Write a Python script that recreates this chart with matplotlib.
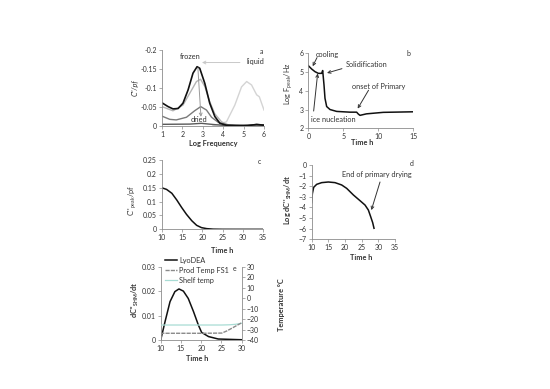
import numpy as np
import matplotlib
matplotlib.use("Agg")
import matplotlib.pyplot as plt

plt.rcParams['font.family'] = ['Lato', 'DejaVu Sans']
plt.rcParams['font.size'] = 5
plt.rcParams['mathtext.default'] = 'regular'

# panel a: dielectric loss spectra (log frequency)
freq_frozen = [1.0, 1.3, 1.54, 1.79, 2.03, 2.28, 2.52, 2.72, 2.85, 3.1, 3.34, 3.59, 3.84, 4.16, 4.6, 5.2, 5.64, 6.0]
c_frozen = [-0.061, -0.051, -0.045, -0.046, -0.06, -0.095, -0.139, -0.156, -0.152, -0.112, -0.06, -0.025, -0.007, -0.002, -0.001, -0.001, -0.004, -0.002]
freq_mid = [1.0, 1.54, 2.03, 2.36, 2.69, 2.89, 3.1, 3.34, 3.59, 3.92, 4.25, 5.0, 6.0]
c_mid = [-0.051, -0.04, -0.055, -0.086, -0.117, -0.123, -0.104, -0.064, -0.032, -0.011, -0.003, -0.001, -0.001]
freq_part = [1.0, 1.38, 1.7, 2.2, 2.6, 2.9, 3.18, 3.43, 3.75, 4.16, 4.8, 6.0]
c_part = [-0.026, -0.0175, -0.016, -0.023, -0.04, -0.051, -0.042, -0.023, -0.01, -0.0035, -0.002, -0.002]
freq_dried = [1.0, 2.36, 2.93, 3.5, 4.16, 5.0, 5.64, 6.0]
c_dried = [-0.0044, -0.005, -0.007, -0.004, -0.001, -0.001, -0.004, -0.003]
freq_liquid = [3.5, 3.67, 4.16, 4.57, 4.9, 5.15, 5.39, 5.64, 5.77, 6.0]
c_liquid = [-0.001, -0.003, -0.011, -0.055, -0.103, -0.117, -0.108, -0.082, -0.077, -0.042]

# panel b: log F_peak vs time
t_b = [0.0, 0.48, 0.95, 1.43, 1.9, 2.05, 2.24, 2.38, 2.62, 3.1, 4.05, 5.95, 6.9, 7.14, 7.38, 8.3, 10.7, 15.0]
logf_b = [5.34, 5.16, 5.02, 4.93, 4.93, 5.08, 4.31, 3.6, 3.16, 3.0, 2.9, 2.86, 2.86, 2.76, 2.69, 2.77, 2.85, 2.88]

# panel c: C''peak vs time
t_c = [10.0, 11.2, 12.5, 13.7, 14.9, 16.1, 17.4, 18.6, 19.8, 21.1, 22.7, 25.0, 30.0, 35.0]
cpeak_c = [0.150, 0.144, 0.130, 0.106, 0.079, 0.054, 0.031, 0.0144, 0.006, 0.0024, 0.0006, 0.0001, 0.0, 0.0]

# panel d: log dC''/dt vs time
t_d = [10.0, 10.2, 10.6, 11.5, 13.0, 15.0, 17.0, 19.0, 20.5, 22.5, 24.5, 26.0, 27.0, 27.7, 28.3, 28.7]
logd_d = [-3.55, -2.7, -2.1, -1.82, -1.66, -1.6, -1.66, -1.88, -2.2, -2.82, -3.36, -3.77, -4.24, -4.87, -5.43, -5.96]

# panel e: LyoDEA rate and temperatures
t_e = [10.0, 11.07, 12.3, 13.5, 14.5, 15.6, 16.8, 18.1, 19.3, 20.1, 21.8, 24.2, 30.0]
rate_e = [0.0, 0.0075, 0.0157, 0.0198, 0.0209, 0.02, 0.017, 0.0116, 0.0061, 0.0031, 0.0014, 0.0004, 0.0001]
t_prod = [10.0, 10.25, 15.0, 20.0, 25.1, 26.3, 27.5, 30.0]
temp_prod = [-40.0, -33.6, -33.6, -33.6, -33.4, -31.4, -28.9, -23.5]
t_shelf = [10.2, 15.0, 20.0, 25.0, 27.0, 28.5, 30.0]
temp_shelf = [-25.7, -25.7, -25.7, -25.7, -25.5, -25.0, -24.0]

SPINE = '#8c8c8c'
TXT = '#333333'
FS_TICK = 5
FS_TXT = 5.3


def style(ax):
    for s in ['top', 'right']:
        ax.spines[s].set_visible(False)
    for s in ['left', 'bottom']:
        ax.spines[s].set_color(SPINE)
        ax.spines[s].set_linewidth(0.6)
    ax.tick_params(length=2, width=0.5, color=SPINE, labelcolor=TXT, labelsize=FS_TICK, pad=1.5)


def arrow(ax, tip, tail, color='#333333'):
    ax.annotate('', xy=tip, xytext=tail,
                arrowprops=dict(arrowstyle='->', color=color, lw=0.7, shrinkA=0, shrinkB=0))


fig = plt.figure(figsize=(5.5, 3.89), dpi=100)

# ---- a ----
ax = fig.add_axes([0.2945, 0.6761, 0.1855, 0.1954])
style(ax)
ax.plot(freq_liquid, c_liquid, color='#d4d4d4', lw=1)
ax.plot(freq_mid, c_mid, color='#b4b4b4', lw=1)
ax.plot(freq_part, c_part, color='#7a7a7a', lw=1)
ax.plot(freq_dried, c_dried, color='#595959', lw=1)
ax.plot(freq_frozen, c_frozen, color='#111111', lw=1.2)
ax.set_xlim(1, 6)
ax.set_ylim(0, -0.2)
ax.set_xticks([1, 2, 3, 4, 5, 6])
ax.set_yticks([0, -0.05, -0.1, -0.15, -0.2])
ax.set_yticklabels(['0', '-0.05', '-0.1', '-0.15', '-0.2'])
arrow(ax, (2.96, -0.167), (4.82, -0.167), '#c8c8c8')
arrow(ax, (2.91, -0.024), (2.76, -0.153), '#9a9a9a')
ax.text(2.37, -0.184, 'frozen', ha='center', va='center', fontsize=FS_TXT, color=TXT)
ax.text(5.56, -0.171, 'liquid', ha='center', va='center', fontsize=FS_TXT, color=TXT)
ax.text(2.8, -0.016, 'dried', ha='center', va='center', fontsize=FS_TXT, color=TXT)
ax.text(5.95, -0.195, 'a', ha='right', va='center', fontsize=FS_TICK, color=TXT)
ax.set_ylabel("C''/pf", fontsize=FS_TXT, color=TXT, fontstyle='italic')
ax.yaxis.set_label_coords(-0.225, 0.5)
ax.set_xlabel('Log Frequency', fontsize=FS_TXT, fontweight='bold', color=TXT)
ax.xaxis.set_label_coords(0.5, -0.184)

# ---- b ----
ax = fig.add_axes([0.5606, 0.6702, 0.1909, 0.1928])
style(ax)
ax.plot(t_b, logf_b, color='#111111', lw=1.1)
ax.set_xlim(0, 15)
ax.set_ylim(2, 6)
ax.set_xticks([0, 5, 10, 15])
ax.set_yticks([2, 3, 4, 5, 6])
arrow(ax, (0.62, 5.31), (1.24, 5.77))
arrow(ax, (2.67, 4.95), (4.8, 5.18))
arrow(ax, (1.33, 4.92), (0.76, 2.92))
arrow(ax, (7.05, 3.05), (8.6, 4.03))
ax.text(2.7, 5.95, 'cooling', ha='center', va='center', fontsize=FS_TXT, color=TXT)
ax.text(8.3, 5.41, 'Solidification', ha='center', va='center', fontsize=FS_TXT, color=TXT)
ax.text(3.64, 2.48, 'ice nucleation', ha='center', va='center', fontsize=FS_TXT, color=TXT)
ax.text(10.0, 4.24, 'onset of Primary', ha='center', va='center', fontsize=FS_TXT, color=TXT)
ax.text(14.6, 6.0, 'b', ha='right', va='center', fontsize=FS_TICK, color=TXT)
ax.set_ylabel('Log F$_{peak}$/Hz', fontsize=FS_TXT, color=TXT)
ax.yaxis.set_label_coords(-0.127, 0.6)
ax.set_xlabel('Time h', fontsize=FS_TXT, fontweight='bold', color=TXT)
ax.xaxis.set_label_coords(0.51, -0.139)

# ---- c ----
ax = fig.add_axes([0.294, 0.4105, 0.1847, 0.1781])
style(ax)
ax.plot(t_c, cpeak_c, color='#111111', lw=1.1)
ax.set_xlim(10, 35)
ax.set_ylim(0, 0.25)
ax.set_xticks([10, 15, 20, 25, 30, 35])
ax.set_yticks([0, 0.05, 0.1, 0.15, 0.2, 0.25])
ax.set_yticklabels(['0', '0.05', '0.1', '0.15', '0.2', '0.25'])
ax.text(34.5, 0.245, 'c', ha='right', va='center', fontsize=FS_TICK, color=TXT)
ax.set_ylabel("C''$_{peak}$/pf", fontsize=FS_TXT, color=TXT)
ax.yaxis.set_label_coords(-0.223, 0.42)
ax.set_xlabel('Time h', fontsize=FS_TXT, fontweight='bold', color=TXT)
ax.xaxis.set_label_coords(0.6, -0.257)

# ---- d ----
ax = fig.add_axes([0.5667, 0.3848, 0.1515, 0.191])
style(ax)
ax.plot(t_d, logd_d, color='#111111', lw=1.1)
ax.set_xlim(10, 35)
ax.set_ylim(-7, 0)
ax.set_xticks([10, 15, 20, 25, 30, 35])
ax.set_yticks(range(-7, 1))
arrow(ax, (27.9, -4.25), (30.5, -1.6))
ax.text(29.5, -0.94, 'End of primary drying', ha='center', va='center', fontsize=FS_TXT, color=TXT)
ax.text(40.5, 0.1, 'd', ha='right', va='center', fontsize=FS_TICK, color=TXT, clip_on=False)
ax.set_ylabel("Log dC''$_{SHM}$/dt", fontsize=FS_TXT, fontweight='bold', color=TXT)
ax.yaxis.set_label_coords(-0.212, 0.53)
ax.set_xlabel('Time h', fontsize=FS_TXT, fontweight='bold', color=TXT)
ax.xaxis.set_label_coords(0.59, -0.198)

# ---- e ----
ax = fig.add_axes([0.2922, 0.126, 0.1473, 0.1884])
style(ax)
l1, = ax.plot(t_e, rate_e, color='#111111', lw=1.1, label='LyoDEA')
ax.set_xlim(10, 30)
ax.set_ylim(0, 0.03)
ax.set_xticks([10, 15, 20, 25, 30])
ax.set_yticks([0, 0.01, 0.02, 0.03])
ax.set_yticklabels(['0', '0.01', '0.02', '0.03'])
ax2 = ax.twinx()
for s in ['top', 'left', 'bottom']:
    ax2.spines[s].set_visible(False)
ax2.spines['right'].set_color(SPINE)
ax2.spines['right'].set_linewidth(0.6)
ax2.tick_params(length=2, width=0.5, color=SPINE, labelcolor=TXT, labelsize=FS_TICK, pad=1.5)
l3, = ax2.plot(t_shelf, temp_shelf, color='#a8dcd4', lw=0.9, label='Shelf temp')
l2, = ax2.plot(t_prod, temp_prod, color='#8a8a8a', lw=1.0, ls=(0, (3, 0.8)), label='Prod Temp FS1')
ax2.set_ylim(-40, 30)
ax2.set_yticks(range(-40, 31, 10))
ax.legend([l1, l2, l3], ['LyoDEA', 'Prod Temp FS1', 'Shelf temp'], loc='upper left',
          bbox_to_anchor=(0.05, 1.135), frameon=False, fontsize=FS_TXT, handlelength=1.7,
          handletextpad=0.3, labelspacing=0.4, borderpad=0, borderaxespad=0,
          labelcolor=TXT)
ax.text(0.917, 0.98, 'e', transform=ax.transAxes, ha='center', va='center', fontsize=FS_TICK, color=TXT)
ax.set_ylabel("dC''$_{SHM}$/dt", fontsize=FS_TXT, fontweight='bold', color=TXT)
ax.yaxis.set_label_coords(-0.247, 0.55)
ax2.set_ylabel('Temperature °C', fontsize=FS_TXT, fontweight='bold', color=TXT, rotation=90)
ax2.yaxis.set_label_coords(1.45, 0.48)
ax.set_xlabel('Time h', fontsize=FS_TXT, fontweight='bold', color=TXT)
ax.xaxis.set_label_coords(0.45, -0.2)

fig.savefig('out.png', dpi=100)
